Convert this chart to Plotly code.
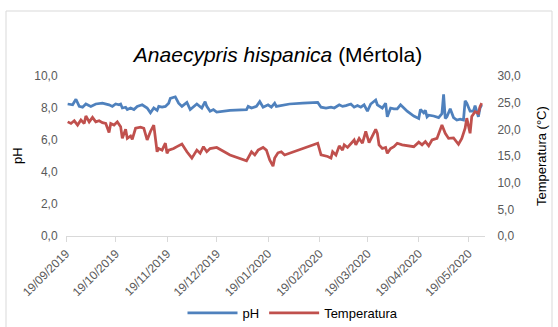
import plotly.graph_objects as go

# ---- data ----
ph_dates = [
    "2019-09-20", "2019-09-23", "2019-09-25", "2019-09-27", "2019-09-29", "2019-10-01",
    "2019-10-04", "2019-10-07", "2019-10-11", "2019-10-15", "2019-10-17", "2019-10-19",
    "2019-10-21", "2019-10-22", "2019-10-23", "2019-10-25", "2019-10-26", "2019-10-28",
    "2019-10-30", "2019-11-01", "2019-11-04", "2019-11-07", "2019-11-09", "2019-11-11",
    "2019-11-13", "2019-11-14", "2019-11-16", "2019-11-18", "2019-11-20", "2019-11-21",
    "2019-11-24", "2019-11-26", "2019-11-28", "2019-12-01", "2019-12-03", "2019-12-05",
    "2019-12-07", "2019-12-10", "2019-12-12", "2019-12-13", "2019-12-15", "2019-12-17",
    "2019-12-19", "2019-12-27", "2020-01-06", "2020-01-07", "2020-01-09", "2020-01-12",
    "2020-01-14", "2020-01-16", "2020-01-19", "2020-01-21", "2020-01-23", "2020-01-24",
    "2020-01-27", "2020-02-01", "2020-02-09", "2020-02-18", "2020-02-20", "2020-02-23",
    "2020-02-26", "2020-02-28", "2020-03-02", "2020-03-04", "2020-03-06", "2020-03-09",
    "2020-03-11", "2020-03-13", "2020-03-15", "2020-03-17", "2020-03-19", "2020-03-21",
    "2020-03-24", "2020-03-25", "2020-03-28", "2020-03-30", "2020-03-31", "2020-04-02",
    "2020-04-04", "2020-04-06", "2020-04-08", "2020-04-12", "2020-04-16", "2020-04-19",
    "2020-04-20", "2020-04-22", "2020-04-23", "2020-04-24", "2020-04-25", "2020-04-28",
    "2020-05-01", "2020-05-03", "2020-05-04", "2020-05-05", "2020-05-06", "2020-05-08",
    "2020-05-10", "2020-05-12", "2020-05-14", "2020-05-16", "2020-05-17", "2020-05-18",
    "2020-05-20", "2020-05-22", "2020-05-23", "2020-05-25", "2020-05-26", "2020-05-27",
]
ph_values = [
    8.25, 8.2, 8.55, 8.1, 8.05, 8.25,
    8.1, 8.25, 8.3, 8.2, 8.1, 8.25,
    8.2, 8.25, 8.0, 8.05, 7.9, 8.0,
    7.9, 8.1, 8.2, 8.0, 7.7, 8.0,
    7.85, 8.1, 8.05, 8.1, 8.3, 8.6,
    8.7, 8.3, 8.1, 8.35, 7.9, 8.1,
    8.25, 8.0, 8.4, 8.1, 7.8, 7.9,
    7.75, 7.85, 7.9, 8.1, 8.0, 8.1,
    8.4, 8.05, 8.2, 8.05, 8.3, 8.1,
    8.15, 8.25, 8.3, 8.35, 8.05, 8.0,
    8.05, 8.0, 8.2, 8.1, 8.15, 8.25,
    8.05, 8.15, 8.05, 8.2, 7.8, 8.25,
    8.5, 8.2, 8.0, 8.3, 7.45, 8.0,
    7.95, 7.95, 8.2, 7.8, 7.5, 7.35,
    7.9, 7.7, 7.85, 7.45, 7.55, 7.5,
    7.4, 7.65, 8.85, 7.35, 7.45, 7.95,
    7.4, 7.25, 7.3, 7.25, 8.45, 8.3,
    7.8, 7.8, 8.15, 7.45, 8.0, 8.2,
]

temp_dates = [
    "2019-09-20", "2019-09-22", "2019-09-24", "2019-09-26", "2019-09-28", "2019-09-30",
    "2019-10-01", "2019-10-03", "2019-10-05", "2019-10-07", "2019-10-09", "2019-10-11",
    "2019-10-13", "2019-10-15", "2019-10-16", "2019-10-18", "2019-10-20", "2019-10-22",
    "2019-10-23", "2019-10-25", "2019-10-26", "2019-10-28", "2019-10-29", "2019-10-31",
    "2019-11-03", "2019-11-05", "2019-11-07", "2019-11-09", "2019-11-11", "2019-11-13",
    "2019-11-14", "2019-11-16", "2019-11-18", "2019-11-19", "2019-11-20", "2019-11-23",
    "2019-11-25", "2019-11-28", "2019-12-01", "2019-12-04", "2019-12-07", "2019-12-09",
    "2019-12-11", "2019-12-13", "2019-12-15", "2019-12-19", "2019-12-27", "2020-01-06",
    "2020-01-09", "2020-01-11", "2020-01-13", "2020-01-16", "2020-01-18", "2020-01-20",
    "2020-01-22", "2020-01-23", "2020-01-25", "2020-01-27", "2020-01-29", "2020-02-09",
    "2020-02-18", "2020-02-20", "2020-02-24", "2020-02-26", "2020-02-27", "2020-02-29",
    "2020-03-02", "2020-03-04", "2020-03-05", "2020-03-07", "2020-03-09", "2020-03-11",
    "2020-03-12", "2020-03-14", "2020-03-16", "2020-03-18", "2020-03-20", "2020-03-22",
    "2020-03-24", "2020-03-25", "2020-03-26", "2020-03-28", "2020-03-30", "2020-03-31",
    "2020-04-02", "2020-04-04", "2020-04-06", "2020-04-09", "2020-04-16", "2020-04-19",
    "2020-04-21", "2020-04-23", "2020-04-25", "2020-04-27", "2020-04-30", "2020-05-03",
    "2020-05-05", "2020-05-07", "2020-05-10", "2020-05-13", "2020-05-15", "2020-05-17",
    "2020-05-18", "2020-05-20", "2020-05-21", "2020-05-23", "2020-05-25", "2020-05-26",
    "2020-05-27",
]
temp_values = [
    21.4, 21.1, 21.6, 20.8, 21.75, 21.1,
    22.5, 21.4, 22.25, 21.4, 21.6, 21.25,
    21.1, 19.4, 21.1, 20.8, 21.4, 20.5,
    18.3, 20.0, 18.3, 18.75, 18.1, 20.2,
    20.4, 20.2, 18.0, 19.6, 20.8, 15.8,
    16.4, 16.1, 17.4, 15.5, 16.1, 16.4,
    16.75, 17.25, 15.8, 14.6, 16.1, 15.5,
    16.75, 15.8, 16.4, 16.6, 15.2, 14.1,
    15.8, 15.2, 16.1, 16.6, 16.1, 14.25,
    13.1, 14.6, 15.6, 15.8, 15.2, 16.4,
    17.4, 15.2, 14.9, 14.6, 15.8, 15.2,
    16.9, 16.1, 17.1, 16.6, 17.4, 18.0,
    17.1, 18.3, 17.4, 19.6, 17.5, 18.9,
    20.0, 19.25, 17.1, 16.4, 16.6, 15.5,
    16.4, 16.75, 17.4, 17.1, 16.75, 17.6,
    17.1, 17.7, 16.9, 18.0, 18.3, 20.8,
    19.25, 18.3, 18.4, 17.2, 18.3, 20.2,
    22.1, 19.25, 22.4, 23.3, 23.0, 24.25,
    24.9,
]

tick_dates = [
    "2019-09-19", "2019-10-19", "2019-11-19", "2019-12-19", "2020-01-19",
    "2020-02-19", "2020-03-19", "2020-04-19", "2020-05-19",
]
tick_labels = [
    "19/09/2019", "19/10/2019", "19/11/2019", "19/12/2019", "19/01/2020",
    "19/02/2020", "19/03/2020", "19/04/2020", "19/05/2020",
]
x_range = ["2019-09-19", "2020-05-29"]

BLUE = "#4F81BD"
RED = "#C0504D"
GREY_TXT = "#595959"
FONT = "Liberation Sans, Arial, sans-serif"

fig = go.Figure()
fig.add_trace(go.Scatter(x=ph_dates, y=ph_values, name="pH", mode="lines",
                         line=dict(color=BLUE, width=2.75), yaxis="y"))
fig.add_trace(go.Scatter(x=temp_dates, y=temp_values, name="Temperatura", mode="lines",
                         line=dict(color=RED, width=2.75), yaxis="y2"))

L, R, T, B = 66, 73, 76, 91
W, H = 558, 327
pw, ph = W - L - R, H - T - B

def px(x):
    return (x - L) / pw

def py(y):
    return (H - B - y) / ph

fig.update_layout(
    width=W, height=H,
    margin=dict(l=L, r=R, t=T, b=B, autoexpand=False),
    paper_bgcolor="white", plot_bgcolor="white",
    separators=",.",
    font=dict(family=FONT, size=12, color=GREY_TXT),
    title=dict(text="<i>Anaecypris hispanica</i> (Mértola)", x=278 / W, xref="container",
               xanchor="center", y=1 - 55 / H, yanchor="middle",
               font=dict(family=FONT, size=21, color="#000000")),
    xaxis=dict(type="date", range=x_range, tickvals=tick_dates, ticktext=tick_labels,
               tickangle=-45, showgrid=False, zeroline=False, showline=True,
               linecolor="#D9D9D9", linewidth=1, ticks="outside", ticklen=5,
               tickcolor="#D9D9D9", tickfont=dict(size=12, color=GREY_TXT),
               automargin=False),
    yaxis=dict(range=[0, 10], tickvals=[0, 2, 4, 6, 8, 10], tickformat=".1f",
               showgrid=False, zeroline=False, showline=False,
               ticks="outside", ticklen=5, tickcolor="rgba(0,0,0,0)",
               tickfont=dict(size=12, color=GREY_TXT), automargin=False),
    yaxis2=dict(range=[0, 30], tickvals=[0, 5, 10, 15, 20, 25, 30], tickformat=".1f",
                overlaying="y", side="right", showgrid=False, zeroline=False,
                showline=False, ticks="outside", ticklen=9, tickcolor="rgba(0,0,0,0)",
                tickfont=dict(size=12, color=GREY_TXT), automargin=False),
    showlegend=True,
    legend=dict(orientation="h", x=px(293), xref="paper", xanchor="center",
                y=1 - 313 / H, yref="container", yanchor="middle",
                font=dict(size=13, color="#000000"), itemwidth=50,
                bgcolor="rgba(0,0,0,0)"),
    annotations=[
        dict(text="pH", x=px(17), y=py(156), xref="paper", yref="paper",
             textangle=-90, showarrow=False, font=dict(size=13, color="#000000"),
             xanchor="center", yanchor="middle"),
        dict(text="Temperatura (°C)", x=px(541), y=py(156), xref="paper", yref="paper",
             textangle=-90, showarrow=False, font=dict(size=13, color="#000000"),
             xanchor="center", yanchor="middle"),
    ],
    shapes=[
        dict(type="rect", xref="paper", yref="paper",
             x0=px(6), x1=px(552), y0=py(340), y1=py(11),
             line=dict(color="#D9D9D9", width=1), fillcolor="rgba(0,0,0,0)", layer="below"),
    ],
)

fig.write_html("out.html", config={"displayModeBar": False},
               post_script="document.body.style.margin='0';document.body.style.padding='0';")
